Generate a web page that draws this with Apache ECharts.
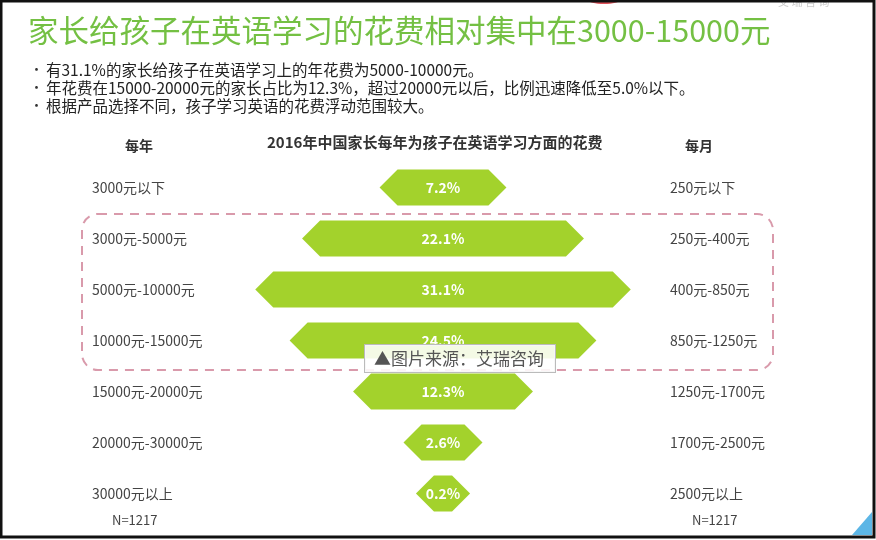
<!DOCTYPE html>
<html>
<head>
<meta charset="utf-8">
<script src="https://cdn.jsdelivr.net/npm/echarts@6/dist/echarts.min.js"></script>
<style>
  html, body { margin: 0; padding: 0; background: #fff; }
  #main { width: 876px; height: 540px; }
</style>
</head>
<body>
<div id="main"></div>
<script>
(function () {

    // 每年花费区间 / 对应每月 / 占比
    var yearRanges = ['3000元以下', '3000元-5000元', '5000元-10000元', '10000元-15000元',
        '15000元-20000元', '20000元-30000元', '30000元以上'];
    var monthRanges = ['250元以下', '250元-400元', '400元-850元', '850元-1250元',
        '1250元-1700元', '1700元-2500元', '2500元以上'];
    var shares = [7.2, 22.1, 31.1, 24.5, 12.3, 2.6, 0.2];

    var bullets = [
        '有31.1%的家长给孩子在英语学习上的年花费为5000-10000元。',
        '年花费在15000-20000元的家长占比为12.3%，超过20000元以后，比例迅速降低至5.0%以下。',
        '根据产品选择不同，孩子学习英语的花费浮动范围较大。'
    ];

    var FONT = '"Noto Sans CJK SC", "Noto Sans", sans-serif';
    var GREEN = '#a3d22c';

    var myChart = echarts.init(document.getElementById('main'));

    var option = {
        animation: false,
        backgroundColor: '#fff',
        textStyle: { fontFamily: FONT },
        grid: { left: 235, right: 225, top: 162, bottom: 21 },
        xAxis: { type: 'value', min: -40, max: 40, show: false },
        yAxis: [
            {
                type: 'category',
                data: yearRanges,
                inverse: true,
                axisLine: { show: false },
                axisTick: { show: false },
                splitLine: { show: false },
                axisLabel: { align: 'left', margin: 143, fontSize: 14, color: '#444', fontFamily: FONT }
            },
            {
                type: 'category',
                data: monthRanges,
                inverse: true,
                position: 'right',
                axisLine: { show: false },
                axisTick: { show: false },
                splitLine: { show: false },
                axisLabel: { align: 'left', margin: 19, fontSize: 14, color: '#444', fontFamily: FONT }
            }
        ],
        series: [{
            type: 'custom',
            data: shares.map(function (v, i) { return [v, i]; }),
            encode: { x: 0, y: 1 },
            renderItem: function (params, api) {
                var v = api.value(0);
                var c = api.coord([0, api.value(1)]);
                var e = api.coord([v, api.value(1)]);
                var hw = e[0] - c[0] + 26;   // 两端各留出尖角
                var h = api.size([0, 1])[1] * 0.71;
                var tip = 18;
                var cx = c[0], cy = c[1];
                return {
                    type: 'group',
                    children: [{
                        type: 'polygon',
                        shape: {
                            points: [
                                [cx - hw, cy], [cx - hw + tip, cy - h / 2], [cx + hw - tip, cy - h / 2],
                                [cx + hw, cy], [cx + hw - tip, cy + h / 2], [cx - hw + tip, cy + h / 2]
                            ]
                        },
                        style: { fill: GREEN }
                    }, {
                        type: 'text',
                        style: {
                            text: v.toFixed(1) + '%',
                            x: cx, y: cy,
                            align: 'center', verticalAlign: 'middle',
                            fill: '#fff',
                            font: 'bold 14px ' + FONT
                        }
                    }]
                };
            }
        }]
    };

    myChart.setOption(option);

    // 虚线框：圈出 3000-15000 元三档
    var band = myChart.convertToPixel({ yAxisIndex: 0 }, yearRanges[2]) - myChart.convertToPixel({ yAxisIndex: 0 }, yearRanges[1]);
    var boxTop = myChart.convertToPixel({ yAxisIndex: 0 }, yearRanges[1]) - band / 2 + 1;
    var boxBottom = myChart.convertToPixel({ yAxisIndex: 0 }, yearRanges[3]) + band / 2 + 4;

    var graphics = [
        // 外框
        { type: 'rect', shape: { x: 1, y: 1, width: 873, height: 536 }, style: { fill: 'none', stroke: '#111', lineWidth: 3 }, z: 100 },
        { type: 'ellipse', shape: { cx: 604, cy: 0, rx: 16, ry: 4 }, style: { fill: '#e0525a' } },
        { type: 'text', left: 778, top: -4, style: { text: '艾 瑞 咨 询', fill: '#ccc', font: '11px ' + FONT } },
        { type: 'polygon', shape: { points: [[872, 512], [872, 535], [852, 535]] }, style: { fill: '#5cb6e6' } },
        // 主标题
        { type: 'text', left: 28, top: 15, style: { text: '家长给孩子在英语学习的花费相对集中在3000-15000元', fill: '#74c043', font: '30.5px ' + FONT } },
        // 图表标题与列标题
        { type: 'text', left: 267, top: 135, style: { text: '2016年中国家长每年为孩子在英语学习方面的花费', fill: '#333', font: 'bold 15px ' + FONT } },
        { type: 'text', left: 125, top: 139, style: { text: '每年', fill: '#333', font: 'bold 14px ' + FONT } },
        { type: 'text', left: 685, top: 139, style: { text: '每月', fill: '#333', font: 'bold 14px ' + FONT } },
        { type: 'text', left: 112, top: 514, style: { text: 'N=1217', fill: '#444', font: '13px ' + FONT } },
        { type: 'text', left: 692, top: 514, style: { text: 'N=1217', fill: '#444', font: '13px ' + FONT } },
        // 虚线圆角框
        {
            type: 'rect',
            shape: { x: 82, y: boxTop, width: 691, height: boxBottom - boxTop, r: 16 },
            style: { fill: 'none', stroke: '#d99aab', lineWidth: 2, lineDash: [9, 7] },
            z: 10
        },
        // 图片来源水印
        {
            type: 'text', left: 364, top: 344, z: 50,
            style: {
                text: '▲图片来源：艾瑞咨询',
                fill: '#555',
                font: '17px ' + FONT,
                backgroundColor: 'rgba(255,255,255,0.88)',
                borderColor: '#bbb',
                borderWidth: 1,
                padding: [5, 11, 5, 9]
            }
        }
    ];

    bullets.forEach(function (b, i) {
        graphics.push({ type: 'text', left: 30, top: 63 + i * 18, style: { text: '•', fill: '#333', font: '13px ' + FONT } });
        graphics.push({ type: 'text', left: 46, top: 62 + i * 18, style: { text: b, fill: '#222', font: '15.5px ' + FONT } });
    });

    myChart.setOption({ graphic: graphics });
}());
</script>
</body>
</html>
